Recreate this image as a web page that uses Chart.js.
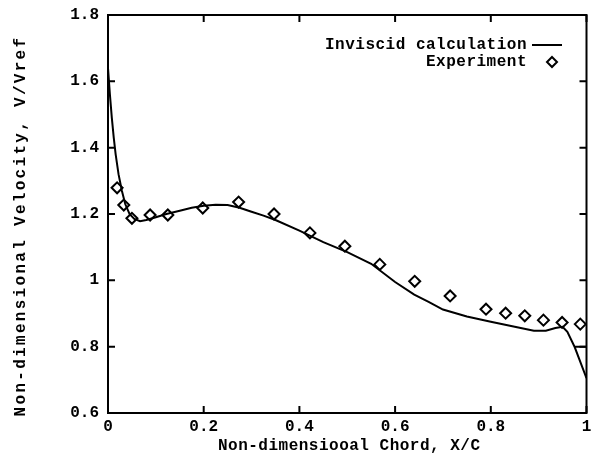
<!DOCTYPE html>
<html>
<head>
<meta charset="utf-8">
<script src="https://cdn.jsdelivr.net/npm/chart.js@4/dist/chart.umd.min.js"></script>
<style>
html,body{margin:0;padding:0;background:#fff;}
#wrap{width:594px;height:457px;position:relative;}
</style>
</head>
<body>
<div id="wrap"><canvas id="c" width="594" height="457"></canvas></div>
<script>
// Inviscid calculation (line)
const curveX = [0, 0.004, 0.008, 0.012, 0.016, 0.022, 0.029, 0.036, 0.045, 0.055, 0.067, 0.08, 0.1, 0.122, 0.15, 0.175, 0.2, 0.225, 0.25, 0.275, 0.3, 0.325, 0.35, 0.4, 0.45, 0.5, 0.55, 0.6, 0.64, 0.67, 0.7, 0.75, 0.8, 0.85, 0.89, 0.915, 0.935, 0.95, 0.96, 0.975, 1.0, 0.975, 1.0];
const curveY = [1.64, 1.56, 1.49, 1.43, 1.38, 1.32, 1.27, 1.23, 1.2, 1.185, 1.178, 1.182, 1.19, 1.2, 1.21, 1.219, 1.225, 1.228, 1.227, 1.219, 1.207, 1.195, 1.182, 1.15, 1.115, 1.085, 1.05, 0.995, 0.957, 0.935, 0.912, 0.891, 0.875, 0.86, 0.848, 0.848, 0.856, 0.86, 0.845, 0.80, 0.80, 0.80, 0.705];
// Experiment (diamonds)
const expX = [0.019, 0.033, 0.05, 0.088, 0.125, 0.198, 0.273, 0.347, 0.422, 0.495, 0.568, 0.641, 0.715, 0.79, 0.831, 0.871, 0.91, 0.949, 0.987];
const expY = [1.279, 1.227, 1.187, 1.197, 1.197, 1.218, 1.236, 1.2, 1.143, 1.103, 1.048, 0.997, 0.953, 0.913, 0.901, 0.893, 0.88, 0.873, 0.868];
// Axis ticks
const xTicks = [0, 0.2, 0.4, 0.6, 0.8, 1];
const xTickLabels = ["0", "0.2", "0.4", "0.6", "0.8", "1"];
const yTicks = [0.6, 0.8, 1, 1.2, 1.4, 1.6, 1.8];
const yTickLabels = ["0.6", "0.8", "1", "1.2", "1.4", "1.6", "1.8"];
const seriesNames = ["Inviscid calculation", "Experiment"];
const xTitle = "Non-dimensiooal Chord, X/C";
const yTitle = "Non-dimensional Velocity, V/Vref";

const FONT = 'bold 16px "Liberation Mono", "DejaVu Sans Mono", monospace';

const curveData = curveX.map((x, i) => ({x: x, y: curveY[i]}));
const expData = expX.map((x, i) => ({x: x, y: expY[i]}));

const framePlugin = {
  id: 'frame',
  afterDraw(chart) {
    const ctx = chart.ctx;
    const a = chart.chartArea;
    const xs = chart.scales.x, ys = chart.scales.y;
    ctx.save();
    ctx.strokeStyle = '#000';
    ctx.lineWidth = 2;
    ctx.strokeRect(a.left, a.top, a.right - a.left, a.bottom - a.top);
    const tl = 7;
    ctx.beginPath();
    xTicks.forEach(v => {
      const px = xs.getPixelForValue(v);
      ctx.moveTo(px, a.bottom); ctx.lineTo(px, a.bottom - tl);
      ctx.moveTo(px, a.top); ctx.lineTo(px, a.top + tl);
    });
    yTicks.forEach(v => {
      const py = ys.getPixelForValue(v);
      ctx.moveTo(a.left, py); ctx.lineTo(a.left + tl, py);
      ctx.moveTo(a.right, py); ctx.lineTo(a.right - tl, py);
    });
    ctx.stroke();
    // titles
    ctx.fillStyle = '#000';
    ctx.font = FONT;
    ctx.textAlign = 'center';
    ctx.textBaseline = 'middle';
    ctx.save();
    ctx.letterSpacing = '0.5px';
    ctx.fillText(xTitle, (a.left + a.right) / 2 + 2, 446);
    ctx.restore();
    ctx.save();
    ctx.translate(21, 226);
    ctx.rotate(-Math.PI / 2);
    ctx.letterSpacing = '2.3px';
    ctx.fillText(yTitle, 0, 0);
    ctx.restore();
    // legend
    ctx.save();
    ctx.letterSpacing = '0.5px';
    ctx.textAlign = 'right';
    ctx.fillText(seriesNames[0], 527, 45);
    ctx.fillText(seriesNames[1], 527, 62);
    ctx.restore();
    ctx.lineWidth = 2;
    ctx.beginPath();
    ctx.moveTo(532, 45); ctx.lineTo(562, 45);
    ctx.stroke();
    ctx.beginPath();
    const dx = 552, dy = 62, r = 5;
    ctx.moveTo(dx, dy - r); ctx.lineTo(dx + r, dy); ctx.lineTo(dx, dy + r); ctx.lineTo(dx - r, dy); ctx.closePath();
    ctx.fillStyle = '#fff';
    ctx.fill();
    ctx.stroke();
    ctx.restore();
  }
};

const tickFont = {family: '"Liberation Mono", monospace', size: 16, weight: 'bold'};

new Chart(document.getElementById('c'), {
  type: 'scatter',
  data: {
    datasets: [
      {
        label: seriesNames[0],
        data: curveData,
        showLine: true,
        borderColor: '#000',
        borderWidth: 2,
        pointRadius: 0,
        tension: 0,
        fill: false
      },
      {
        label: seriesNames[1],
        data: expData,
        showLine: false,
        pointStyle: 'rectRot',
        pointRadius: 5.5,
        borderColor: '#000',
        backgroundColor: '#fff',
        borderWidth: 2
      }
    ]
  },
  options: {
    responsive: false,
    animation: false,
    devicePixelRatio: 1,
    layout: {padding: {top: 15, right: 7, left: 0, bottom: 0}},
    plugins: {legend: {display: false}, tooltip: {enabled: false}},
    scales: {
      x: {
        type: 'linear', min: 0, max: 1,
        afterBuildTicks(s) { s.ticks = xTicks.map(v => ({value: v})); },
        afterFit(s) { s.height = 44; s.paddingLeft = 0; s.paddingRight = 0; },
        grid: {display: false, drawTicks: false},
        border: {display: false},
        ticks: {color: '#000', font: tickFont, padding: 4, maxRotation: 0,
          callback: (v, i) => xTickLabels[i]}
      },
      y: {
        type: 'linear', min: 0.6, max: 1.8,
        afterBuildTicks(s) { s.ticks = yTicks.map(v => ({value: v})); },
        afterFit(s) { s.width = 108; s.paddingTop = 0; s.paddingBottom = 0; },
        grid: {display: false, drawTicks: false},
        border: {display: false},
        ticks: {color: '#000', font: tickFont, padding: 9,
          callback: (v, i) => yTickLabels[i]}
      }
    }
  },
  plugins: [framePlugin]
});
</script>
</body>
</html>
